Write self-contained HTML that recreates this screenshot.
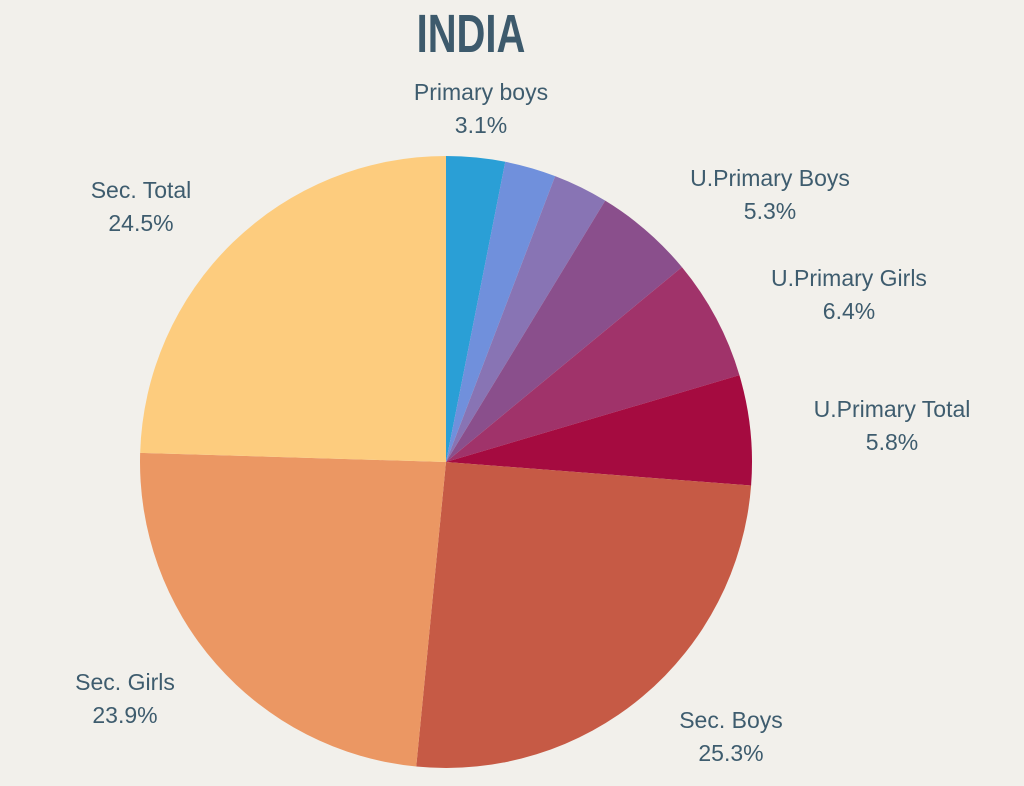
<!DOCTYPE html>
<html><head><meta charset="utf-8"><style>
html,body{margin:0;padding:0;background:#f2f0eb;}
svg{display:block;}
text{font-family:"Liberation Sans",sans-serif;fill:#3e5c6e;}
</style></head><body>
<svg id="chart" width="1024" height="786" viewBox="0 0 1024 786">
<rect width="1024" height="786" fill="#f2f0eb"/>
<text x="471" y="52" text-anchor="middle" font-size="54" font-weight="bold" transform="translate(471,0) scale(0.74,1) translate(-471,0)" style="font-family:'Liberation Sans Narrow','Liberation Sans',sans-serif;fill:#3d5a6c">INDIA</text>
<g id="slices"></g>
<g id="labels"></g>
</svg>
<script>
const categories=["Primary boys","Primary Girls","Primary Total","U.Primary Boys","U.Primary Girls","U.Primary Total","Sec. Boys","Sec. Girls","Sec. Total"];
const values=[3.1,2.7,2.9,5.3,6.4,5.8,25.3,23.9,24.5];
const showLabel=[true,false,false,true,true,true,true,true,true];
const colors=["#2a9fd6","#7090dc","#8874b4","#8a4f8c","#a0336a","#a50b40","#c65a45","#eb9763","#fdcc7e"];
const labelPos={"Primary boys":[481,100],"U.Primary Boys":[770,186],"U.Primary Girls":[849,286],"U.Primary Total":[892,417],"Sec. Boys":[731,728],"Sec. Girls":[125,690],"Sec. Total":[141,198]};
const cx=446,cy=462,r=306;
const NS="http://www.w3.org/2000/svg";
const total=values.reduce((a,b)=>a+b,0);
const sg=document.getElementById('slices'),lg=document.getElementById('labels');
let acc=0;
function pt(f){const a=f*2*Math.PI;return [cx+r*Math.sin(a),cy-r*Math.cos(a)];}
values.forEach((v,i)=>{
  const f0=acc/total;acc+=v;const f1=acc/total;
  const p0=pt(f0),p1=pt(f1);const large=(f1-f0)>0.5?1:0;
  const p=document.createElementNS(NS,'path');
  p.setAttribute('d',`M${cx},${cy}L${p0[0]},${p0[1]}A${r},${r} 0 ${large} 1 ${p1[0]},${p1[1]}Z`);
  p.setAttribute('fill',colors[i]);
  
  
  sg.appendChild(p);
  if(showLabel[i]&&labelPos[categories[i]]){
    const [lx,ly]=labelPos[categories[i]];
    const t=document.createElementNS(NS,'text');
    t.setAttribute('x',lx);t.setAttribute('y',ly);t.setAttribute('text-anchor','middle');t.setAttribute('font-size','23');
    t.textContent=categories[i];
    
    
    lg.appendChild(t);
    const t2=document.createElementNS(NS,'text');
    t2.setAttribute('x',lx);t2.setAttribute('y',ly+33);t2.setAttribute('text-anchor','middle');t2.setAttribute('font-size','23');
    t2.textContent=v.toFixed(1)+'%';
    
    
    lg.appendChild(t2);
  }
});
</script>
</body></html>
